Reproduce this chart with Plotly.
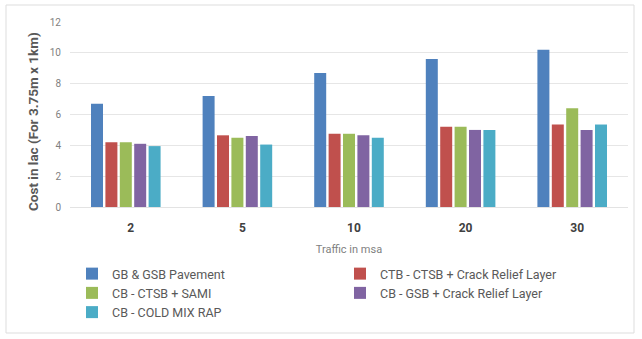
import plotly.graph_objects as go

# Traffic categories (msa) and construction cost per 3.75 m x 1 km section (lac)
traffic = ["2", "5", "10", "20", "30"]
gb_gsb = [6.7, 7.2, 8.7, 9.6, 10.2]
ctb_ctsb_crl = [4.2, 4.65, 4.75, 5.2, 5.35]
cb_ctsb_sami = [4.2, 4.5, 4.75, 5.2, 6.4]
cb_gsb_crl = [4.1, 4.6, 4.65, 5.0, 5.0]
cb_cold_mix = [3.95, 4.05, 4.5, 5.0, 5.35]

series = [
    ("GB & GSB Pavement", gb_gsb, "#4F81BD"),
    ("CTB - CTSB + Crack Relief Layer", ctb_ctsb_crl, "#C0504D"),
    ("CB - CTSB + SAMI", cb_ctsb_sami, "#9BBB59"),
    ("CB - GSB + Crack Relief Layer", cb_gsb_crl, "#8064A2"),
    ("CB - COLD MIX RAP", cb_cold_mix, "#4BACC6"),
]

W, H = 642, 339
L, R, T, B = 70, 628, 22, 207  # plot area edges in px

fig = go.Figure()
for name, vals, color in series:
    fig.add_trace(go.Bar(x=traffic, y=vals, name=name, marker_color=color,
                         marker_line_width=0))

def px_x(p):
    return (p - L) / (R - L)

def px_y(p):
    return (B - p) / (B - T)

FONT = "Roboto, Arial, sans-serif"

fig.update_layout(
    width=W, height=H,
    margin=dict(l=L, r=W - R, t=T, b=H - B, pad=0, autoexpand=False),
    paper_bgcolor="white", plot_bgcolor="white",
    barmode="group", bargap=0.355, bargroupgap=0.167,
    font=dict(family=FONT, color="#595959", size=10),
    showlegend=True,
    legend=dict(
        orientation="h", x=px_x(72), xanchor="left", y=px_y(259), yanchor="top",
        entrywidth=223, entrywidthmode="pixels",
        font=dict(family=FONT, size=12.5, color="#595959"),
        itemwidth=30, traceorder="normal",
        bgcolor="rgba(0,0,0,0)",
    ),
    xaxis=dict(
        showgrid=False, zeroline=False, showline=True, linecolor="#E3E3E3", linewidth=1,
        ticks="", ticklabelstandoff=10, ticklabelshift=5,
        tickfont=dict(family=FONT, size=12, color="#404040", weight="bold"),
        title=dict(text="Traffic in msa", font=dict(family=FONT, size=11, color="#7F7F7F"),
                   standoff=10),
    ),
    yaxis=dict(
        range=[0, 12], dtick=2, showgrid=True, gridcolor="#E6E6E6", gridwidth=1,
        zeroline=False, ticks="", ticklabelstandoff=8,
        tickfont=dict(family=FONT, size=10, color="#7F7F7F"),
    ),
    annotations=[dict(
        text="<b>Cost in lac (For 3.75m x 1km)</b>", textangle=-90,
        xref="paper", yref="paper", x=px_x(33), y=px_y(122),
        xanchor="center", yanchor="middle", showarrow=False,
        font=dict(family=FONT, size=13.5, color="#595959"),
    )],
    shapes=[dict(type="rect", xref="paper", yref="paper",
                 x0=px_x(6), x1=px_x(634), y0=px_y(333), y1=px_y(5),
                 line=dict(color="#DDDDDD", width=1), fillcolor="rgba(0,0,0,0)",
                 layer="below")],
)

fig.write_html("out.html")
